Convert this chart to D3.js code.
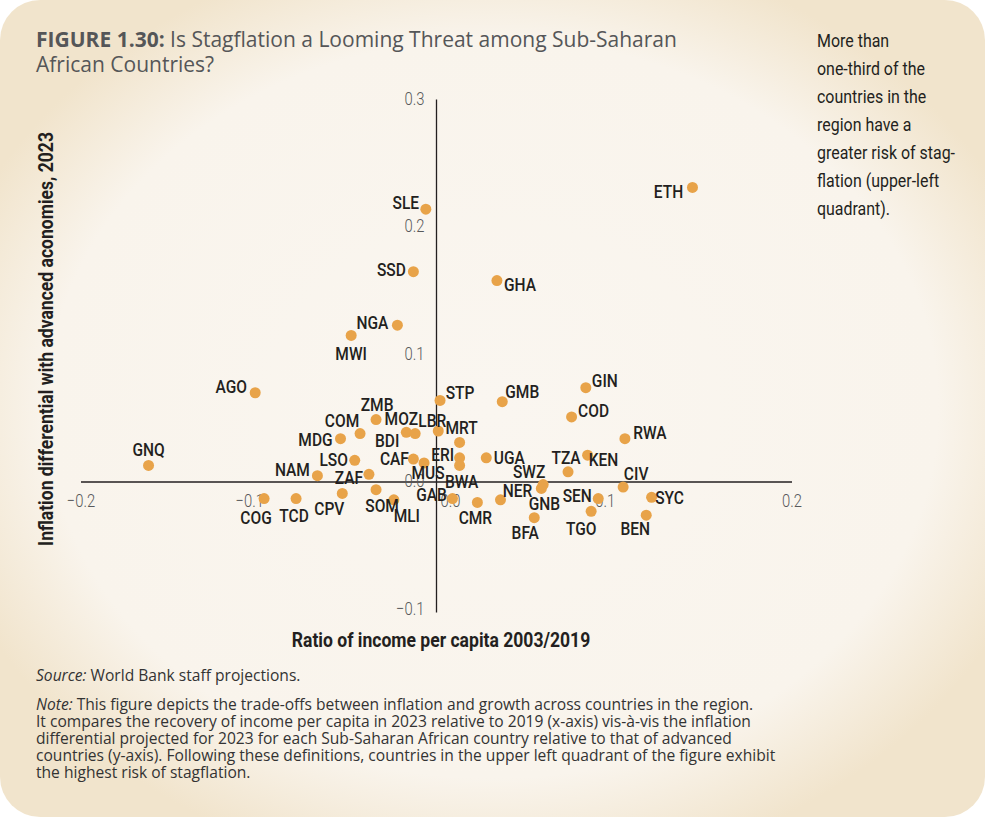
<!DOCTYPE html>
<html>
<head>
<meta charset="utf-8">
<script src="https://cdnjs.cloudflare.com/ajax/libs/d3/7.8.5/d3.min.js"></script>
<style>
  body { margin: 0; background: #fff; }
  svg { display: block; }
</style>
</head>
<body>
<div id="chart"></div>
<script>
var width = 986;
var height = 819;

// Data
var codes = ["ETH", "SLE", "SSD", "GHA", "NGA", "MWI", "AGO", "GNQ", "STP", "GMB",
  "GIN", "COD", "RWA", "KEN", "TZA", "CIV", "SYC", "BEN", "TGO", "SEN",
  "BFA", "GNB", "SWZ", "NER", "CMR", "UGA", "MRT", "LBR", "MOZ", "BDI",
  "ZMB", "COM", "MDG", "LSO", "NAM", "ZAF", "CAF", "ERI", "MUS", "BWA",
  "GAB", "SOM", "MLI", "CPV", "TCD", "COG"];
var incomeRatio = [0.144, -0.006, -0.013, 0.034, -0.022, -0.048, -0.102, -0.162, 0.002, 0.037,
  0.084, 0.076, 0.106, 0.085, 0.074, 0.105, 0.121, 0.118, 0.087, 0.091,
  0.055, 0.059, 0.060, 0.036, 0.023, 0.028, 0.013, 0.001, -0.017, -0.012,
  -0.034, -0.043, -0.054, -0.046, -0.067, -0.038, -0.013, 0.013, -0.007, 0.013,
  0.009, -0.034, -0.024, -0.053, -0.079, -0.097];
var inflationDiff = [0.231, 0.214, 0.165, 0.158, 0.123, 0.115, 0.070, 0.013, 0.064, 0.063,
  0.074, 0.051, 0.034, 0.021, 0.008, -0.004, -0.012, -0.026, -0.023, -0.013,
  -0.028, -0.005, -0.002, -0.014, -0.016, 0.019, 0.031, 0.040, 0.039, 0.038,
  0.049, 0.038, 0.034, 0.017, 0.005, 0.006, 0.018, 0.019, 0.015, 0.013,
  -0.013, -0.006, -0.014, -0.009, -0.013, -0.013];
var xTicks = [-0.2, -0.1, 0.0, 0.1, 0.2];
var yTicks = [-0.1, 0.0, 0.1, 0.2, 0.3];

var sideText = ["More than", "one-third of the", "countries in the", "region have a",
  "greater risk of stag-", "flation (upper-left", "quadrant)."];
var noteLines = [
  "This figure depicts the trade-offs between inflation and growth across countries in the region.",
  "It compares the recovery of income per capita in 2023 relative to 2019 (x-axis) vis-\u00e0-vis the inflation",
  "differential projected for 2023 for each Sub-Saharan African country relative to that of advanced",
  "countries (y-axis). Following these definitions, countries in the upper left quadrant of the figure exhibit",
  "the highest risk of stagflation."
];

// label offsets (px) from each dot, set by hand to avoid overlap
var labelOffset = {
  ETH: [-24, 4], SLE: [-20, -7], SSD: [-22, -2], GHA: [23, 4], NGA: [-25, -3],
  MWI: [0, 18], AGO: [-24, -6], GNQ: [0, -16], STP: [20, -8], GMB: [20, -10],
  GIN: [19, -7], COD: [22, -7], RWA: [25, -6], KEN: [16, 4], TZA: [-2, -14],
  CIV: [13, -14], SYC: [18, 0], BEN: [-11, 13], TGO: [-10, 17], SEN: [-21, -3],
  BFA: [-9, 15], GNB: [3, 15], SWZ: [-14, -13], NER: [17, -10], CMR: [-2, 15],
  UGA: [23, 0], MRT: [2, -15], LBR: [-6, -11], MOZ: [-5, -14], BDI: [-28, 7],
  ZMB: [1, -15], COM: [-18, -13], MDG: [-25, 1], LSO: [-21, -1], NAM: [-25, -6],
  ZAF: [-20, 3], CAF: [-19, -1], ERI: [-17, -3], MUS: [4, 9], BWA: [2, 16],
  GAB: [-21, -4], SOM: [6, 16], MLI: [13, 15], CPV: [-13, 15], TCD: [-2, 17],
  COG: [-8, 19]
};

var narrow = "Roboto, 'DejaVu Sans', sans-serif";
var bodyFont = "'Open Sans', Lato, sans-serif";

// squeeze a text horizontally to fake a condensed face
function place(sel, fx, fy, sx) {
  sel.attr("transform", function(d, i) {
    return "translate(" + fx(d, i) + "," + fy(d, i) + ") scale(" + sx + ",1)";
  });
}

var svg = d3.select("#chart").append("svg")
  .attr("width", width)
  .attr("height", height);

// Background panel
var defs = svg.append("defs");
var grad = defs.append("radialGradient")
  .attr("id", "panelGrad")
  .attr("cx", "50%").attr("cy", "50%").attr("r", "58%");
grad.append("stop").attr("offset", "0%").attr("stop-color", "#faf6f0");
grad.append("stop").attr("offset", "78%").attr("stop-color", "#f9f4ec");
grad.append("stop").attr("offset", "100%").attr("stop-color", "#f1e4cc");

svg.append("rect")
  .attr("x", 0).attr("y", 0)
  .attr("width", 985).attr("height", 817)
  .attr("rx", 40).attr("ry", 40)
  .attr("fill", "url(#panelGrad)");

// Title
var title = svg.append("text")
  .attr("x", 36).attr("y", 47)
  .attr("font-family", bodyFont)
  .attr("font-size", 21)
  .attr("fill", "#555658");
title.append("tspan").attr("font-weight", "bold").text("FIGURE 1.30:");
title.append("tspan").text(" Is Stagflation a Looming Threat among Sub-Saharan");
svg.append("text")
  .attr("x", 36).attr("y", 72)
  .attr("font-family", bodyFont)
  .attr("font-size", 21)
  .attr("fill", "#555658")
  .text("African Countries?");

// Side note
var side = svg.append("g").selectAll("text")
  .data(sideText)
  .enter().append("text")
  .attr("font-family", narrow)
  .attr("font-size", 19)
  .attr("fill", "#231f20")
  .text(function(d) { return d; });
place(side, function() { return 817; }, function(d, i) { return 47 + i * 28; }, 0.84);

// Scales
var x = d3.scaleLinear().domain([-0.2, 0.2]).range([81, 792]);
var y = d3.scaleLinear().domain([-0.1, 0.3]).range([609.5, 99.5]);

// Axes lines
svg.append("line")
  .attr("x1", x(-0.2)).attr("x2", x(0.2))
  .attr("y1", y(0)).attr("y2", y(0))
  .attr("stroke", "#231f20").attr("stroke-width", 1.3);
svg.append("line")
  .attr("x1", x(0)).attr("x2", x(0))
  .attr("y1", y(0.3)).attr("y2", y(-0.1) + 3)
  .attr("stroke", "#231f20").attr("stroke-width", 1.3);

// Tick labels
var fmt = function(d) { return d3.format(".1f")(d).replace("-", "\u2212"); };
var xt = svg.append("g").selectAll("text")
  .data(xTicks)
  .enter().append("text")
  .attr("text-anchor", "middle")
  .attr("font-family", narrow)
  .attr("font-weight", 300)
  .attr("font-size", 19)
  .attr("fill", "#58595b")
  .text(fmt);
place(xt, function(d) { return x(d) + (d === 0 ? 14 : (d === -0.1 || d === 0.1 ? -9 : 0)); },
  function() { return y(0) + 25; }, 0.78);

var yt = svg.append("g").selectAll("text")
  .data(yTicks)
  .enter().append("text")
  .attr("text-anchor", "end")
  .attr("font-family", narrow)
  .attr("font-weight", 300)
  .attr("font-size", 19)
  .attr("fill", "#58595b")
  .text(fmt);
place(yt, function() { return x(0) - 12; }, function(d) { return y(d) + 5; }, 0.78);

// Axis titles
svg.append("text")
  .attr("transform", "translate(441,647) scale(0.9,1)")
  .attr("text-anchor", "middle")
  .attr("font-family", narrow)
  .attr("font-weight", "bold")
  .attr("font-size", 19.5)
  .attr("fill", "#231f20")
  .text("Ratio of income per capita 2003/2019");

svg.append("text")
  .attr("transform", "translate(53,339) rotate(-90) scale(0.9,1)")
  .attr("text-anchor", "middle")
  .attr("font-family", narrow)
  .attr("font-weight", "bold")
  .attr("font-size", 19.5)
  .attr("fill", "#231f20")
  .text("Inflation differential with advanced aconomies, 2023");

// Points
var points = codes.map(function(c, i) {
  return { code: c, x: incomeRatio[i], y: inflationDiff[i] };
});

svg.append("g").selectAll("circle")
  .data(points)
  .enter().append("circle")
  .attr("cx", function(d) { return x(d.x); })
  .attr("cy", function(d) { return y(d.y); })
  .attr("r", 5.5)
  .attr("fill", "#e8a349");

var labels = svg.append("g").selectAll("text")
  .data(points)
  .enter().append("text")
  .attr("dy", "0.36em")
  .attr("text-anchor", "middle")
  .attr("font-family", narrow)
  .attr("font-weight", 500)
  .attr("font-size", 18.5)
  .attr("fill", "#231f20")
  .text(function(d) { return d.code; });
place(labels,
  function(d) { return x(d.x) + labelOffset[d.code][0]; },
  function(d) { return y(d.y) + labelOffset[d.code][1]; }, 0.84);

// Source and note
var src = svg.append("text")
  .attr("x", 36).attr("y", 681)
  .attr("font-family", bodyFont)
  .attr("font-size", 15.6)
  .attr("fill", "#333");
src.append("tspan").attr("font-style", "italic").text("Source:");
src.append("tspan").text(" World Bank staff projections.");

svg.append("g").selectAll("text")
  .data(noteLines)
  .enter().append("text")
  .attr("x", 36)
  .attr("y", function(d, i) { return 710 + i * 17; })
  .attr("font-family", bodyFont)
  .attr("font-size", 15.6)
  .attr("fill", "#333")
  .each(function(d, i) {
    var t = d3.select(this);
    if (i === 0) t.append("tspan").attr("font-style", "italic").text("Note:");
    t.append("tspan").text((i === 0 ? " " : "") + d);
  });
</script>
</body>
</html>
